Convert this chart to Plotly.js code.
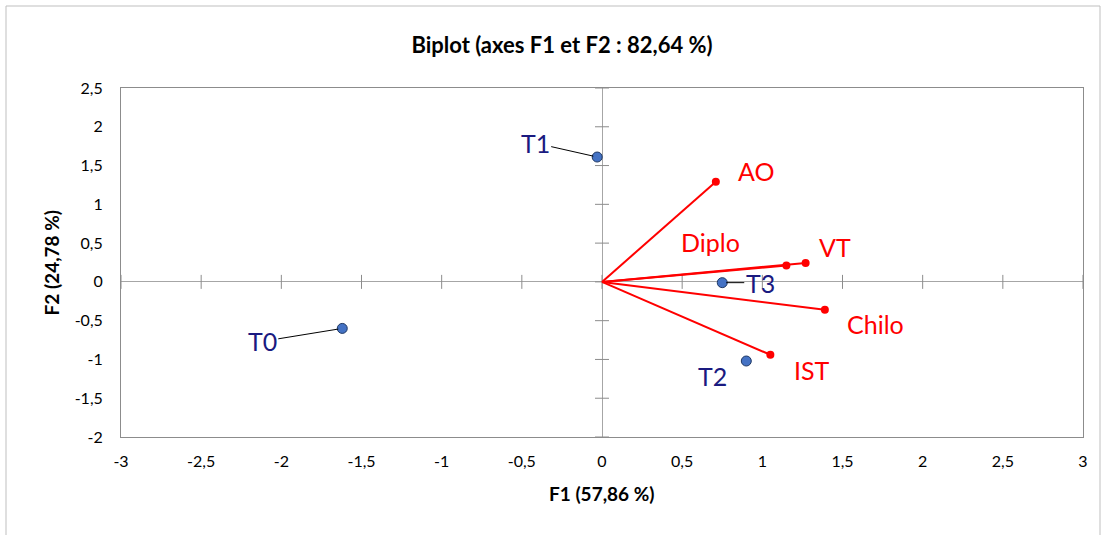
<!DOCTYPE html>
<html><head><meta charset="utf-8">
<script src="https://cdn.plot.ly/plotly-3.0.1.min.js"></script>
<style>body{margin:0;background:#fff}#c{width:1106px;height:535px}</style>
</head><body><div id="c"></div>
<script>
// Observations
const obsNames = ["T0","T1","T2","T3"];
const obsF1 = [-1.62, -0.03, 0.90, 0.75];
const obsF2 = [-0.60, 1.61, -1.02, -0.01];
// Variables
const varNames = ["AO","VT","Diplo","Chilo","IST"];
const varF1 = [0.71, 1.27, 1.15, 1.39, 1.05];
const varF2 = [1.29, 0.245, 0.21, -0.36, -0.94];
// Ticks
const xTicks = [-3,-2.5,-2,-1.5,-1,-0.5,0,0.5,1,1.5,2,2.5,3];
const yTicks = [-2,-1.5,-1,-0.5,0,0.5,1,1.5,2,2.5];
const fmt = v => String(v).replace('.', ',');

const W = 1106, H = 535, L = 121, R = 23, T = 88, B = 98;
const pw = W - L - R, ph = H - T - B;
const FONT = 'Lato, "Open Sans", sans-serif';

const traces = [];
// tick crosses on zero lines
traces.push({x: xTicks, y: xTicks.map(()=>0), mode:'markers', hoverinfo:'skip',
  marker:{symbol:'line-ns-open', size:10, color:'#8c8c8c', line:{color:'#8c8c8c', width:1}}});
traces.push({x: yTicks.map(()=>0), y: yTicks, mode:'markers', hoverinfo:'skip',
  marker:{symbol:'line-ew-open', size:10, color:'#8c8c8c', line:{color:'#8c8c8c', width:1}}});
// variable vectors
varNames.forEach((n,i)=>{
  traces.push({x:[0, varF1[i]], y:[0, varF2[i]], mode:'lines',
    line:{color:'#ff0000', width:2}, hoverinfo:'skip'});
});
traces.push({x: varF1, y: varF2, mode:'markers', text: varNames,
  marker:{color:'#ff0000', size:8}});
// observations
traces.push({x: obsF1, y: obsF2, mode:'markers', text: obsNames,
  marker:{color:'#4472c4', size:10, line:{color:'#1f3864', width:1}}});

const obsOff = {T0:{ax:-80, ay:13, arrow:true}, T1:{ax:-62, ay:-14, arrow:true},
  T2:{xs:-34, ys:-15}, T3:{ax:38, ay:0, arrow:true}};
const varOff = {AO:[40,11], VT:[29,16], Diplo:[-76,24], Chilo:[51,-14], IST:[42,-15]};

const ann = [];
const labFont = {family:FONT, size:25};
obsNames.forEach((n,i)=>{
  const o = obsOff[n];
  if (o.arrow) {
    ann.push({x:obsF1[i], y:obsF2[i], xref:'x', yref:'y', text:n, showarrow:true,
      ax:o.ax, ay:o.ay, arrowhead:0, arrowwidth:1, arrowcolor:'#000', standoff:4,
      font:Object.assign({color:'#1a1a80'}, labFont)});
  } else {
    ann.push({x:obsF1[i], y:obsF2[i], xref:'x', yref:'y', text:n, showarrow:false,
      xshift:o.xs, yshift:o.ys, font:Object.assign({color:'#1a1a80'}, labFont)});
  }
});
varNames.forEach((n,i)=>{
  const o = varOff[n];
  ann.push({x:varF1[i], y:varF2[i], xref:'x', yref:'y', text:n, showarrow:false,
    xshift:o[0], yshift:o[1], font:Object.assign({color:'#ff0000'}, labFont)});
});
// axis titles
ann.push({xref:'paper', yref:'paper', x:0.5, y:(437-494)/ph, xanchor:'center', yanchor:'middle',
  text:'<b>F1 (57,86 %)</b>', showarrow:false, font:{family:FONT, size:19, color:'#000'}});
ann.push({xref:'paper', yref:'paper', x:(51-L)/pw, y:0.5, xanchor:'center', yanchor:'middle',
  text:'<b>F2 (24,78 %)</b>', textangle:-90, showarrow:false, font:{family:FONT, size:19, color:'#000'}});

const tickFont = {family:FONT, size:16, color:'#000'};
const layout = {
  width:W, height:H, margin:{l:L, r:R, t:T, b:B},
  paper_bgcolor:'#fff', plot_bgcolor:'#fff', showlegend:false,
  title:{text:'<b>Biplot (axes F1 et F2 : 82,64 %)</b>', x:562/W, xref:'container', xanchor:'center',
    y:1-45/H, yref:'container', yanchor:'middle',
    font:{family:FONT, size:22, color:'#000'}},
  xaxis:{range:[-3,3], tickvals:xTicks, ticktext:xTicks.map(fmt), showgrid:false, zeroline:true,
    zerolinecolor:'#a6a6a6', zerolinewidth:1, showline:true, mirror:true, linecolor:'#8c8c8c',
    linewidth:1, ticks:'', tickfont:tickFont, ticklabelstandoff:10},
  yaxis:{range:[-2,2.5], tickvals:yTicks, ticktext:yTicks.map(fmt), showgrid:false, zeroline:true,
    zerolinecolor:'#a6a6a6', zerolinewidth:1, showline:true, mirror:true, linecolor:'#8c8c8c',
    linewidth:1, ticks:'', tickfont:tickFont, ticklabelstandoff:14},
  annotations: ann,
  shapes:[{type:'rect', xref:'paper', yref:'paper', x0:(6-L)/pw, x1:(1100-L)/pw,
    y0:(437-560)/ph, y1:(437-6)/ph, line:{color:'#bfbfbf', width:1}, layer:'below'}]
};
Plotly.newPlot('c', traces, layout, {staticPlot:true});
</script></body></html>
